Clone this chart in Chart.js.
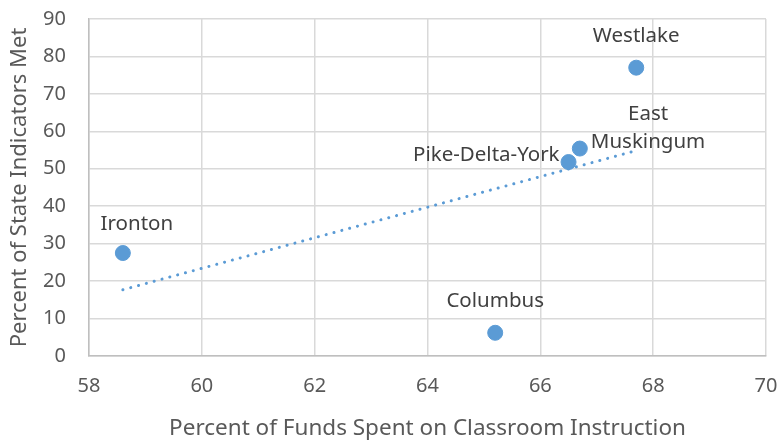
<!DOCTYPE html>
<html>
<head>
<meta charset="utf-8">
<script src="https://cdn.jsdelivr.net/npm/chart.js@4/dist/chart.umd.min.js"></script>
<style>
  html, body { margin: 0; padding: 0; background: #fff; }
  #c { display: block; }
</style>
</head>
<body>
<canvas id="c" width="780" height="442"></canvas>
<script>
const districts = ['Ironton', 'Westlake', 'East\nMuskingum', 'Pike-Delta-York', 'Columbus'];
const fundsPct = [58.6, 67.7, 66.7, 66.5, 65.2];
const indicatorsPct = [27.5, 77, 55.4, 51.8, 6.2];
const xTicks = [58, 60, 62, 64, 66, 68, 70];
const yTicks = [0, 10, 20, 30, 40, 50, 60, 70, 80, 90];

// linear trendline fitted to the points
const n = fundsPct.length;
const mx = fundsPct.reduce((a, b) => a + b, 0) / n;
const my = indicatorsPct.reduce((a, b) => a + b, 0) / n;
let sxy = 0, sxx = 0;
for (let i = 0; i < n; i++) {
    sxy += (fundsPct[i] - mx) * (indicatorsPct[i] - my);
    sxx += (fundsPct[i] - mx) ** 2;
}
const slope = sxy / sxx;
const xMin = Math.min(...fundsPct), xMax = Math.max(...fundsPct);
const trend = [xMin, xMax].map(x => ({ x: x, y: my + slope * (x - mx) }));

const FONT = '"Noto Sans", sans-serif';
const TEXT = '#595959';
const BLUE = '#5B9BD5';

// where each label sits relative to its point
const labelPlace = ['above', 'above', 'right', 'left', 'above'];

const pointLabels = {
    id: 'pointLabels',
    afterDatasetsDraw(chart) {
        const meta = chart.getDatasetMeta(1);
        const ctx = chart.ctx;
        ctx.save();
        ctx.font = '20.5px ' + FONT;
        ctx.fillStyle = '#404040';
        ctx.textBaseline = 'middle';
        meta.data.forEach((pt, i) => {
            const lines = districts[i].split('\n');
            const place = labelPlace[i];
            let x = pt.x, y = pt.y;
            if (place === 'above') {
                ctx.textAlign = 'center';
                x += i === 0 ? 14 : 0;
                y -= i === 0 ? 29 : 32;
            } else if (place === 'left') {
                ctx.textAlign = 'right';
                x -= 9;
                y -= 7;
            } else {
                ctx.textAlign = 'center';
                const w = Math.max(...lines.map(l => ctx.measureText(l).width));
                x += 11 + w / 2;
                y -= 34;
            }
            lines.forEach((l, k) => ctx.fillText(l, x, y + k * 28));
        });
        ctx.restore();
    }
};

new Chart(document.getElementById('c'), {
    type: 'scatter',
    data: {
        datasets: [
            {
                type: 'line',
                data: trend,
                borderColor: BLUE,
                borderWidth: 3,
                borderDash: [0.1, 8],
                borderCapStyle: 'round',
                pointRadius: 0,
                fill: false
            },
            {
                data: fundsPct.map((x, i) => ({ x: x, y: indicatorsPct[i] })),
                backgroundColor: BLUE,
                borderColor: BLUE,
                pointRadius: 7.5,
                pointHoverRadius: 7.5
            }
        ]
    },
    options: {
        responsive: false,
        animation: false,
        layout: { padding: { top: 19, right: 14, left: 0, bottom: 0 } },
        plugins: { legend: { display: false }, tooltip: { enabled: false } },
        scales: {
            x: {
                type: 'linear',
                min: 58,
                max: 70,
                afterBuildTicks: s => { s.ticks = xTicks.map(v => ({ value: v })); },
                afterFit: s => { s.height = 86; s.paddingRight = 0; s.paddingLeft = 0; },
                grid: { color: '#D9D9D9', lineWidth: 1.5, drawTicks: false },
                border: { color: '#BFBFBF', width: 1.5 },
                ticks: { color: TEXT, font: { family: FONT, size: 20 }, padding: 18, maxRotation: 0 },
                title: { display: true, text: 'Percent of Funds Spent on Classroom Instruction', color: TEXT, font: { family: FONT, size: 22.5 }, padding: { top: 3, bottom: 0 } }
            },
            y: {
                min: 0,
                max: 90,
                afterBuildTicks: s => { s.ticks = yTicks.map(v => ({ value: v })); },
                afterFit: s => { s.width = 89; s.paddingTop = 0; s.paddingBottom = 0; },
                grid: { color: '#D9D9D9', lineWidth: 1.5, drawTicks: false },
                border: { color: '#BFBFBF', width: 1.5 },
                ticks: { color: TEXT, font: { family: FONT, size: 20 }, padding: 23 },
                title: { display: true, text: 'Percent of State Indicators Met', color: TEXT, font: { family: FONT, size: 22 }, padding: { top: 7, bottom: 0 } }
            }
        }
    },
    plugins: [pointLabels]
});
</script>
</body>
</html>
